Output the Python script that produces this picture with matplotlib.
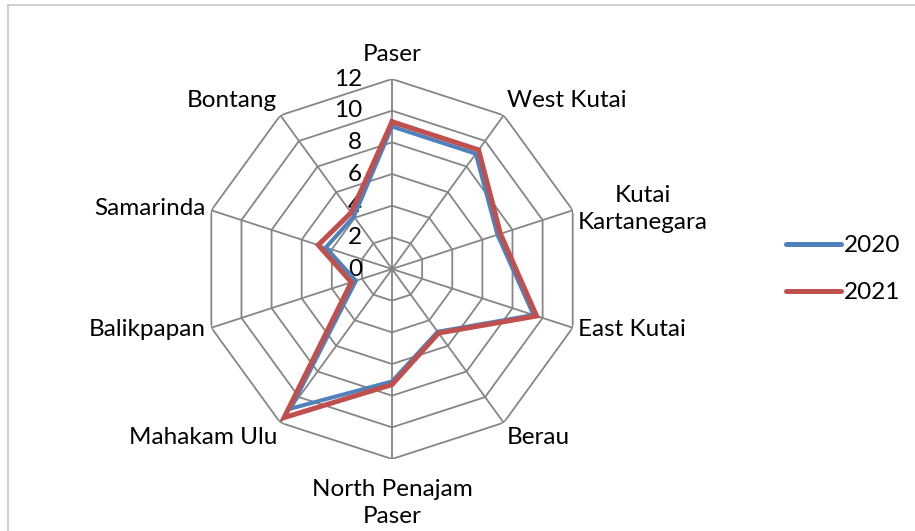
import numpy as np
import matplotlib.pyplot as plt
from matplotlib.lines import Line2D

plt.rcParams['font.family'] = ['Lato', 'DejaVu Sans']

# data
categories = ['Paser', 'West Kutai', 'Kutai\nKartanegara', 'East Kutai', 'Berau',
              'North Penajam\nPaser', 'Mahakam Ulu', 'Balikpapan', 'Samarinda', 'Bontang']
values_2020 = [9.0, 9.0, 7.0, 9.4, 4.9, 7.1, 10.9, 2.4, 4.4, 4.1]
values_2021 = [9.3, 9.3, 7.2, 9.6, 5.0, 7.3, 11.6, 2.7, 4.9, 4.4]
rings = [0, 2, 4, 6, 8, 10, 12]

fs = 17.5
grid_col = '#868686'

fig = plt.figure(figsize=(9.15, 5.31), dpi=100)
ax = fig.add_axes([0.2208, 0.1356, 0.4153, 0.7156], projection='polar')
ax.set_theta_zero_location('N')
ax.set_theta_direction(-1)
ax.set_ylim(0, 12)
ax.grid(False)
ax.spines['polar'].set_visible(False)
ax.set_xticks([])
ax.set_yticks([])
ax.patch.set_alpha(0)

n = len(categories)
angles = np.linspace(0, 2 * np.pi, n, endpoint=False)
closed = np.concatenate([angles, angles[:1]])

# decagon grid
for r in rings[1:]:
    ax.plot(closed, [r] * (n + 1), color=grid_col, lw=1.3, zorder=1)
for a in angles:
    ax.plot([a, a], [0, 12], color=grid_col, lw=1.3, zorder=1)

# radial labels
for r in rings:
    ax.annotate(str(r), xy=(0, r), xytext=(-30, 0), textcoords='offset pixels',
                ha='right', va='center', fontsize=fs)

# series
ax.plot(closed, values_2020 + values_2020[:1], color='#4F81BD', lw=2.9, zorder=3,
        solid_joinstyle='miter')
ax.plot(closed, values_2021 + values_2021[:1], color='#C0504D', lw=3.6, zorder=4,
        solid_joinstyle='miter')

# category labels
for a, lab in zip(angles, categories):
    s, c = np.sin(a), np.cos(a)
    ha = 'left' if s > 0.1 else ('right' if s < -0.1 else 'center')
    va = 'bottom' if c > 0.5 else ('top' if c < -0.5 else 'center')
    r = 12.35
    if abs(s) < 0.1:
        r = 12.9 if c > 0 else 13.25
    ax.text(a, r, lab, ha=ha, va=va, fontsize=fs, multialignment='center',
            linespacing=1.35)

# legend
handles = [Line2D([], [], color='#4F81BD', lw=3.6, solid_capstyle='round'),
           Line2D([], [], color='#C0504D', lw=3.6, solid_capstyle='round')]
fig.legend(handles, ['2020', '2021'], loc='center left',
           bbox_to_anchor=(0.835, 0.493), frameon=False, fontsize=fs,
           handlelength=2.25, handletextpad=0.15, labelspacing=1.07)

# chart border
fig.add_artist(Line2D([7.5 / 915, 1], [1 - 4.5 / 531] * 2, transform=fig.transFigure,
                      color='#c8c8c8', lw=1.2))
fig.add_artist(Line2D([7.5 / 915] * 2, [0, 1 - 4.5 / 531], transform=fig.transFigure,
                      color='#c8c8c8', lw=1.2))

fig.savefig('out.png', dpi=100)
